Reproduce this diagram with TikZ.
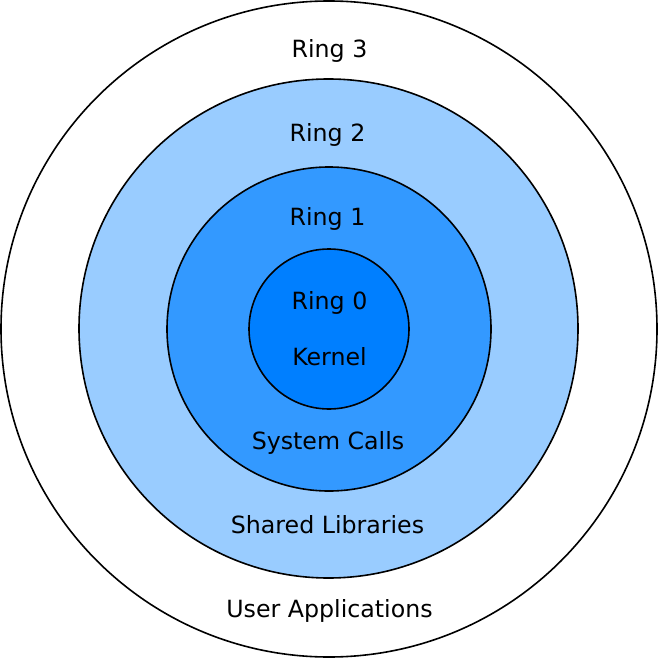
\documentclass[tikz,border=0pt]{standalone}
\usepackage{fontspec}
\setmainfont{DejaVu Sans}
\begin{document}
\begin{tikzpicture}[x=1pt,y=-1pt,
  ring/.style={circle,draw=black,line width=1.6pt,inner sep=0pt,outer sep=0pt},
  lbl/.style={anchor=base,inner sep=0pt,font=\fontsize{23.7}{28}\selectfont}]
\useasboundingbox (0,0) rectangle (658,658);
\definecolor{r2}{HTML}{99CCFF}
\definecolor{r1}{HTML}{3399FF}
\definecolor{r0}{HTML}{007FFF}
\node[ring,fill=white,minimum size=656pt] (c3) at (329,329) {};
\node[ring,fill=r2,minimum size=499pt] (c2) at (328.5,328.5) {};
\node[ring,fill=r1,minimum size=324pt] (c1) at (329,329) {};
\node[ring,fill=r0,minimum size=160pt] (c0) at (329,329) {};
\node[lbl] (t3) at (329.5,57.3) {Ring 3};
\node[lbl] (t2) at (327.5,141.5) {Ring 2};
\node[lbl] (t1) at (327.5,225.5) {Ring 1};
\node[lbl] (t0) at (329.5,309.3) {Ring 0};
\node[lbl] (k) at (329.5,365) {Kernel};
\node[lbl] (sc) at (328,449.5) {System Calls};
\node[lbl] (sl) at (327.5,533.3) {Shared Libraries};
\node[lbl] (ua) at (329.5,617.5) {User Applications};
\end{tikzpicture}
\end{document}
